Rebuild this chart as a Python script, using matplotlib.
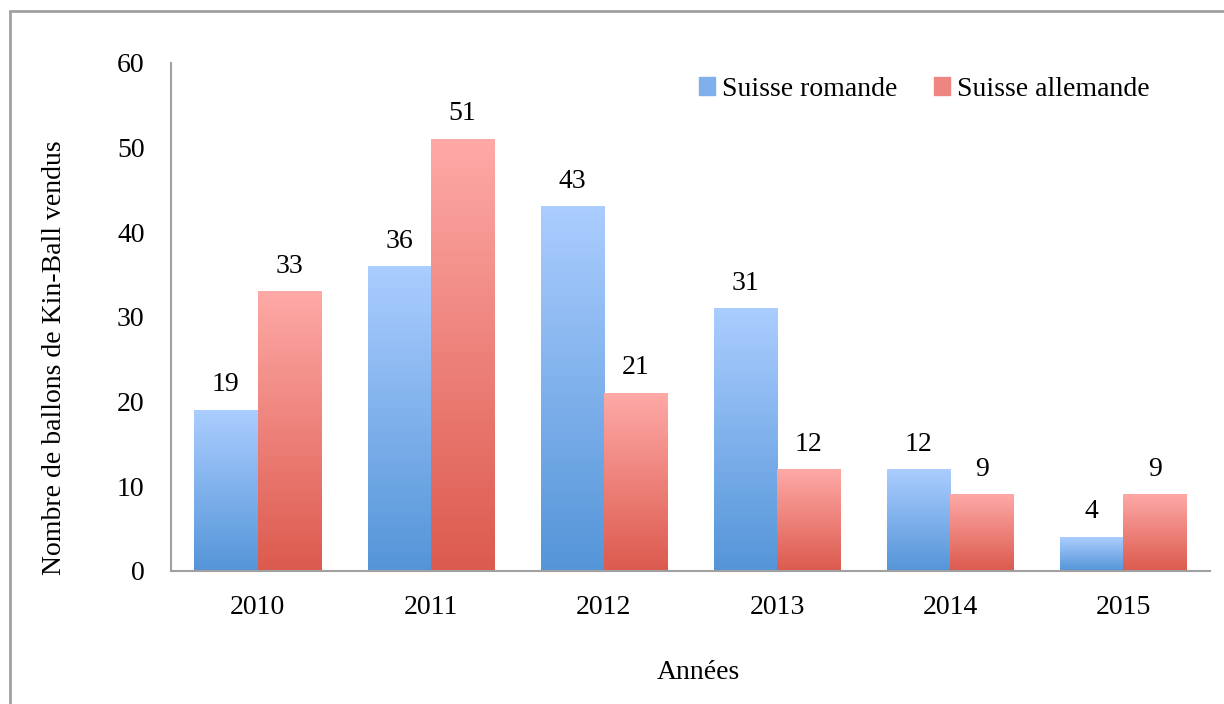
import matplotlib
matplotlib.use('Agg')
import matplotlib.pyplot as plt
import numpy as np
from matplotlib.colors import LinearSegmentedColormap
from matplotlib.patches import Rectangle

# data
years = ['2010', '2011', '2012', '2013', '2014', '2015']
romande = [19, 36, 43, 31, 12, 4]
allemande = [33, 51, 21, 12, 9, 9]
series_names = ['Suisse romande', 'Suisse allemande']

plt.rcParams['font.family'] = ['Liberation Serif', 'DejaVu Serif']
fs = 20

blue_cmap = LinearSegmentedColormap.from_list('blue', ['#5495d8', '#abcdff'])
red_cmap = LinearSegmentedColormap.from_list('red', ['#dc5a4e', '#fea9a6'])

fig = plt.figure(figsize=(12.24, 7.04), dpi=100)
ax = fig.add_axes([171/1224, 1 - 571/704, 1039/1224, 508/704])

ind = np.arange(len(years))
width = 0.365
grad = np.linspace(0, 1, 256).reshape(-1, 1)

p0 = ax.bar(ind - width/2, romande, width, color='none')
p1 = ax.bar(ind + width/2, allemande, width, color='none')

# fill each bar with a vertical gradient
for bars, cmap in ((p0, blue_cmap), (p1, red_cmap)):
    for b in bars:
        x0, y0 = b.get_x(), b.get_y()
        ax.imshow(grad, extent=[x0, x0 + b.get_width(), y0, y0 + b.get_height()],
                  origin='lower', aspect='auto', cmap=cmap, zorder=2)

for bars, vals in ((p0, romande), (p1, allemande)):
    for b, v in zip(bars, vals):
        ax.text(b.get_x() + b.get_width()/2, v + 1.5, str(v), ha='center', va='bottom',
                fontsize=fs)

ax.set_xlim(-0.5, len(years) - 0.5)
ax.set_ylim(0, 60)
ax.set_yticks(np.arange(0, 61, 10))
ax.set_xticks(ind)
ax.set_xticklabels(years)
ax.tick_params(axis='both', length=0, labelsize=fs)
ax.tick_params(axis='y', pad=19)
ax.tick_params(axis='x', pad=17)
for s in ('top', 'right'):
    ax.spines[s].set_visible(False)
for s in ('left', 'bottom'):
    ax.spines[s].set_color('#a0a0a0')
    ax.spines[s].set_linewidth(1.5)

ax.set_ylabel('Nombre de ballons de Kin-Ball vendus', fontsize=fs, va='center', ha='center')
ax.yaxis.set_label_coords(-0.1117, 0.42)
ax.set_xlabel('Années', fontsize=fs, va='center', ha='center')
ax.xaxis.set_label_coords(0.508, -0.199)

handles = [Rectangle((0, 0), 1, 1, color='#7fb0ec'), Rectangle((0, 0), 1, 1, color='#ef8580')]
ax.legend(handles, series_names, loc='center right', bbox_to_anchor=(1150/1224, 1 - 89/704),
          bbox_transform=fig.transFigure, ncol=2, frameon=False, fontsize=fs,
          handlelength=0.6, handleheight=0.6, handletextpad=0.25, columnspacing=1.3,
          borderpad=0, borderaxespad=0)

# outer chart frame
fig.patches.append(Rectangle((10/1224, -0.1), 1.2, 1 - 11/704 + 0.1, transform=fig.transFigure,
                             fill=False, edgecolor='#a0a0a0', linewidth=2))

fig.savefig('out.png', dpi=100)
